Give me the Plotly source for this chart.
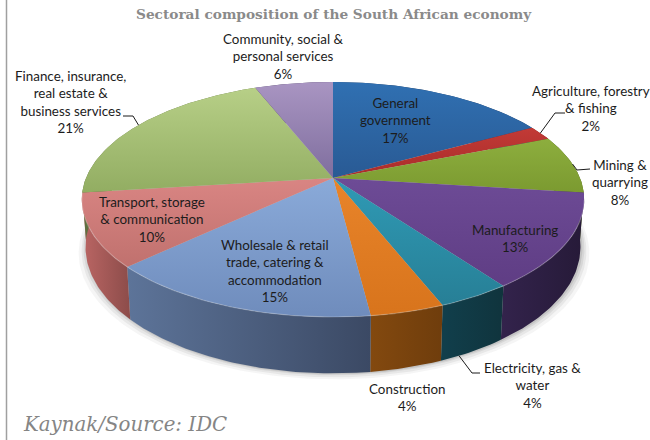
import math
import plotly.graph_objects as go

# Sectoral shares, clockwise from twelve o'clock
sectors = ["General government", "Agriculture, forestry & fishing", "Mining & quarrying",
           "Manufacturing", "Electricity, gas & water", "Construction",
           "Wholesale & retail trade, catering & accommodation",
           "Transport, storage & communication",
           "Finance, insurance, real estate & business services",
           "Community, social & personal services"]
shares = [17, 2, 8, 13, 4, 4, 15, 10, 21, 6]

# Top-face gradient (upper, lower) and side-wall gradient (left, right)
top_upper = ["#3070b2", "#c23a36", "#8dae3e", "#6d4b96", "#2f9ab5", "#e8842a", "#8aaad9", "#d98583", "#b7cf87", "#a995c2"]
top_lower = ["#295a94", "#a82c2a", "#7b9a30", "#5f3d84", "#277f96", "#d8741c", "#6f8cbc", "#c0716e", "#92ad62", "#7f6e9e"]
wall_left = ["#1f3f68", "#6c1c1a", "#4c5e1c", "#33234c", "#113f4c", "#83490f", "#5d7499", "#bb6664", "#5f7040", "#4e4264"]
wall_right = ["#1f3f68", "#6c1c1a", "#4c5e1c", "#261a38", "#10343d", "#6f3d0c", "#3b4964", "#8c4c4a", "#5f7040", "#4e4264"]

# Text placed on the chart: (text, centre x, centre y)
slice_labels = [
    ("General<br>government<br>17%", 395, 120),
    ("Agriculture, forestry<br>& fishing<br>2%", 591, 108),
    ("Mining &<br>quarrying<br>8%", 620, 182),
    ("Manufacturing<br>13%", 515, 238),
    ("Electricity, gas &<br>water<br>4%", 532, 385),
    ("Construction<br>4%", 407, 397),
    ("Wholesale & retail<br>trade, catering &<br>accommodation<br>15%", 275, 271),
    ("Transport, storage<br>& communication<br>10%", 152, 219),
    ("Finance, insurance,<br>real estate &<br>business services<br>21%", 70, 102),
    ("Community, social &<br>personal services<br>6%", 283, 56),
]

# Leader lines: sector index, position along the slice's arc, whether it meets
# the lower rim, elbow, end of stub
leaders = [
    (1, 0.5, False, (555, 113), (565, 113)),
    (2, 0.5, False, (577, 170), (590, 169)),
    (4, 0.72, True, (472, 373), (480, 373)),
    (8, 0.5, False, (133, 116), (123, 116)),
]

# Projection of the tilted disc
CX, CY = 333, 178
A, B, K = 247, 113.6, 0.183
DEPTH = 46
BASE_SHRINK = 0.985


def project(pct, lowered=False):
    theta = math.radians(pct * 3.6)
    u, v = math.sin(theta), -math.cos(theta)
    w = 1 - K * v
    x, y = CX + A * u / w, CY + B * v / w
    if lowered:
        x = CX + BASE_SHRINK * (x - CX)
        y += DEPTH / w
    return x, y


def arc(start, end, lowered=False, step=0.25):
    n = max(2, int(abs(end - start) / step) + 1)
    pts = [project(start + (end - start) * i / (n - 1), lowered) for i in range(n)]
    return [p[0] for p in pts], [p[1] for p in pts]


def polygon(xs, ys, c1, c2, kind):
    return go.Scatter(
        x=xs + xs[:1], y=ys + ys[:1], mode="lines", line=dict(width=0), fill="toself",
        fillgradient=dict(type=kind, colorscale=[[0, c1], [1, c2]]),
        hoverinfo="skip", showlegend=False,
    )


fig = go.Figure()

# Soft shadow beneath the disc
bx, by = arc(0, 100, lowered=True)
for grow, drop, alpha in [(8, 6, 0.05), (5, 4, 0.07), (3, 2, 0.09), (1, 1, 0.12)]:
    sx = [CX + 1 + (x - CX) * (1 + grow / 251) for x in bx]
    sy = [y + drop for y in by]
    fig.add_trace(go.Scatter(x=sx, y=sy, mode="lines", line=dict(width=0), fill="toself",
                             fillcolor=f"rgba(60,60,60,{alpha})", hoverinfo="skip", showlegend=False))

# Cumulative slice boundaries
bounds = [0]
for s in shares:
    bounds.append(bounds[-1] + s)

# Side walls
for i in range(len(shares)):
    tx, ty = arc(bounds[i], bounds[i + 1])
    lx, ly = arc(bounds[i], bounds[i + 1], lowered=True)
    fig.add_trace(polygon(tx + lx[::-1], ty + ly[::-1], wall_left[i], wall_right[i], "horizontal"))

# Top faces; the y axis is reversed, so the gradient runs from lower to upper
for i in range(len(shares)):
    tx, ty = arc(bounds[i], bounds[i + 1])
    fig.add_trace(polygon([CX] + tx, [CY] + ty, top_lower[i], top_upper[i], "vertical"))

# Light bevel along the front of the top face
rx, ry = arc(28, 73)
fig.add_trace(go.Scatter(x=rx, y=ry, mode="lines", line=dict(color="rgba(255,255,255,0.22)", width=1.2),
                         hoverinfo="skip", showlegend=False))

# Leader lines run from each slice's rim to its label
for idx, along, lowered, elbow, stub in leaders:
    pos = bounds[idx] + along * shares[idx]
    ax, ay = project(pos, lowered)
    fig.add_trace(go.Scatter(x=[ax, elbow[0], stub[0]], y=[ay, elbow[1], stub[1]], mode="lines",
                             line=dict(color="#1a1a1a", width=1), hoverinfo="skip", showlegend=False))

annotations = [
    dict(text=t, x=x, y=y, xref="x", yref="y", showarrow=False, xanchor="center", yanchor="middle",
         align="center", font=dict(family="Lato", size=13.4, color="#1c1c1c"))
    for t, x, y in slice_labels
]
annotations.append(dict(text="<b>Sectoral composition of the South African economy</b>", x=334, y=14,
                        xref="x", yref="y", showarrow=False, xanchor="center", yanchor="middle",
                        font=dict(family="DejaVu Serif", size=13.7, color="#8a8a8a")))
annotations.append(dict(text="<i>Kaynak/Source: IDC</i>", x=21, y=424, xref="x", yref="y", showarrow=False,
                        xanchor="left", yanchor="middle",
                        font=dict(family="DejaVu Serif", size=19.8, color="#858585")))

fig.update_layout(
    width=650, height=440, margin=dict(l=0, r=0, t=0, b=0), autosize=False,
    paper_bgcolor="white", plot_bgcolor="white", showlegend=False,
    xaxis=dict(range=[0, 650], visible=False, fixedrange=True),
    yaxis=dict(range=[440, 0], visible=False, fixedrange=True),
    annotations=annotations,
    shapes=[dict(type="line", xref="x", yref="y", x0=6.5, x1=6.5, y0=0, y1=440,
                 line=dict(color="#a0a0a0", width=1.5))],
)
fig.write_html("out.html", config={"displayModeBar": False})
